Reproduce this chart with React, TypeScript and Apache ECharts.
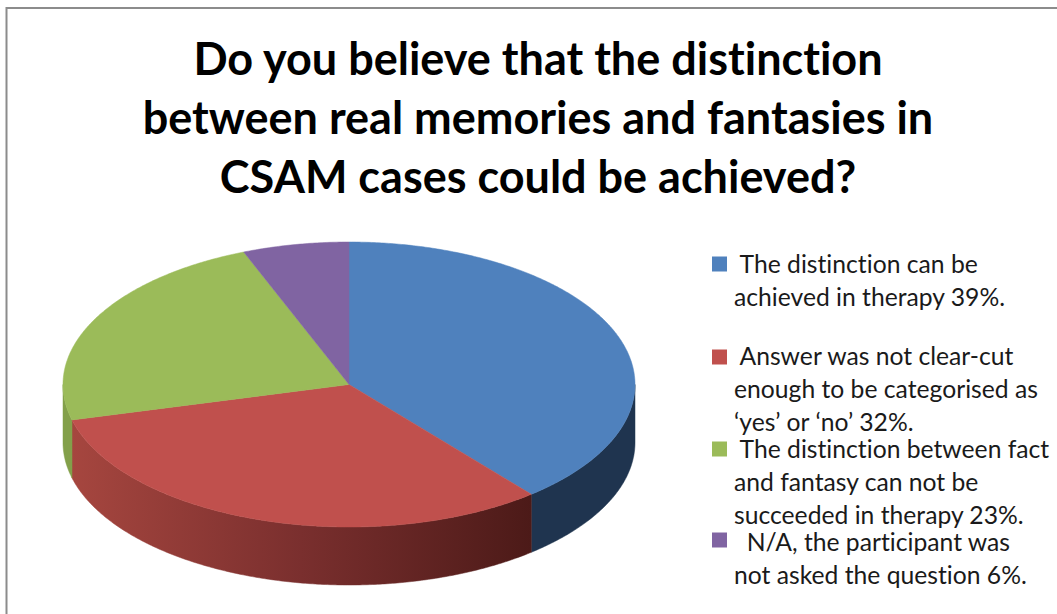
import React, { useEffect, useRef } from "react";
import * as echarts from "echarts";

const titleLines = [
  "Do you believe that the distinction",
  "between real memories and fantasies in",
  "CSAM cases could be achieved?",
];
const categories = ["Therapy", "Not clear-cut", "Not in therapy", "N/A"];
const values = [39, 32, 23, 6];
const topColors = ["#4f81bd", "#c0504d", "#9bbb59", "#8064a2"];
const legendLines = [
  [" The distinction can be", "achieved in therapy 39%."],
  [" Answer was not clear-cut", "enough to be categorised as", "‘yes’ or ‘no’ 32%."],
  [" The distinction between fact", "and fantasy can not be", "succeeded in therapy 23%."],
  ["  N/A, the participant was", "not asked the question 6%."],
];

const CX = 349, CY = 384.5, RX = 286, RY = 142.5, DEPTH = 58;
const markerTops = [264, 357, 449, 540];
const textTops = [263, 355, 448, 541];
const LINE = 33;

function pt(deg: number, dy = 0): number[] {
  const a = (deg * Math.PI) / 180;
  return [CX + RX * Math.sin(a), CY - RY * Math.cos(a) + dy];
}
function arc(from: number, to: number, dy = 0): number[][] {
  const out: number[][] = [];
  const n = Math.max(1, Math.ceil((to - from) * 2));
  for (let i = 0; i <= n; i++) out.push(pt(from + ((to - from) * i) / n, dy));
  return out;
}

export default function App() {
  const ref = useRef<HTMLDivElement>(null);
  useEffect(() => {
    const chart = echarts.init(ref.current!, null, { renderer: "svg" });
    const total = values.reduce((a, b) => a + b, 0);
    const wallFill = (i: number): any => {
      if (i === 0) return "#1f344f";
      if (i === 2) return "#83a04a";
      return new echarts.graphic.LinearGradient(
        71, 0, 531, 0,
        [
          { offset: 0, color: "#a6463f" },
          { offset: 0.5, color: "#7a2f2e" },
          { offset: 1, color: "#4c1a18" },
        ],
        true
      );
    };
    chart.setOption({
      animation: false,
      backgroundColor: "#ffffff",
      title: titleLines.map((text, i) => ({
        text,
        left: 533,
        top: 26 + i * 59,
        textAlign: "center",
        textStyle: { fontFamily: "Lato", fontWeight: "bold", fontSize: 45, color: "#000000", lineHeight: 54 },
      })),
      series: [
        {
          type: "custom",
          coordinateSystem: "none",
          silent: true,
          data: values.map((v, i) => ({ name: categories[i], value: [v] })),
          renderItem: (params: any, api: any) => {
            const i = params.dataIndex;
            const before = values.slice(0, i).reduce((a, b) => a + b, 0);
            const from = (before / total) * 360;
            const to = ((before + api.value(0)) / total) * 360;
            const children: any[] = [];
            const w0 = Math.max(from, 90), w1 = Math.min(to, 270);
            if (w1 > w0) {
              const fill = wallFill(i);
              children.push({
                type: "polygon",
                shape: { points: [...arc(w0, w1), ...arc(w0, w1, DEPTH).reverse()] },
                style: { fill, stroke: fill, lineWidth: 0.5 },
              });
            }
            children.push({
              type: "polygon",
              z2: 10,
              shape: { points: [[CX, CY], ...arc(from, to)] },
              style: { fill: topColors[i], stroke: topColors[i], lineWidth: 0.5 },
            });
            return { type: "group", children };
          },
        },
      ],
      graphic: [
        { type: "rect", silent: true, shape: { x: 6.5, y: 8, width: 1060, height: 620 }, style: { fill: "none", stroke: "#8c8c8c", lineWidth: 2 } },
        ...legendLines.flatMap((lines, i) => [
          { type: "rect", silent: true, shape: { x: 712, y: markerTops[i] - 7.5, width: 15, height: 15 }, style: { fill: topColors[i] } },
          ...lines.map((t, j) => ({
            type: "text",
            silent: true,
            x: 734,
            y: textTops[i] + j * LINE,
            style: { text: t, fontFamily: "Lato", fontSize: 24.7, fill: "#1a1a1a", textVerticalAlign: "middle" },
          })),
        ]),
      ],
    });
    return () => chart.dispose();
  }, []);
  return (
    <div
      ref={ref}
      style={{ position: "fixed", left: 0, top: 0, width: 1057, height: 614, fontVariantLigatures: "none" }}
    />
  );
}
